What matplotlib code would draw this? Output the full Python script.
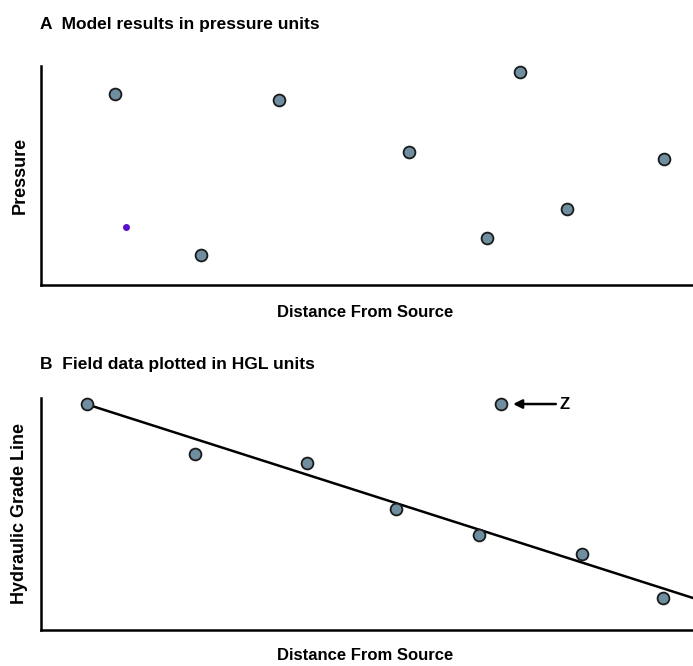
import matplotlib
matplotlib.use("Agg")
import matplotlib.pyplot as plt

plt.rcParams['font.family'] = ['Liberation Sans', 'DejaVu Sans']

# Панель A: результаты модели (условные единицы 0..100)
dist_a = [11.3, 24.5, 36.5, 56.4, 68.4, 73.5, 80.7, 95.6]
pressure_a = [87.2, 13.7, 84.5, 60.7, 21.5, 97.3, 34.7, 57.5]
stray_x, stray_y = 13.0, 26.5

# Панель B: полевые данные в единицах HGL
dist_b = [7.1, 23.6, 40.8, 54.4, 67.2, 83.0, 95.4]
hgl_b = [97.4, 75.9, 72.0, 52.2, 40.9, 32.8, 13.8]
z_x, z_y = 70.6, 97.4
trend_x = [7.1, 100.0]
trend_y = [97.2, 13.8]

marker_face = '#6f8fa0'
mk = dict(ms=8.5, mfc=marker_face, mec='#1a1a1a', mew=1.3, clip_on=False, zorder=3)

fig = plt.figure(figsize=(6.93, 6.66), dpi=100)
ax_a = fig.add_axes([41/693, 1 - 285/666, 652/693, 219/666])
ax_b = fig.add_axes([41/693, 1 - 630/666, 652/693, 232/666])

for ax in (ax_a, ax_b):
    ax.set_xlim(0, 100)
    ax.set_ylim(0, 100)
    ax.set_xticks([])
    ax.set_yticks([])
    for s in ('top', 'right'):
        ax.spines[s].set_visible(False)
    for s in ('left', 'bottom'):
        ax.spines[s].set_linewidth(1.8)
    ax.set_xlabel('Distance From Source', fontsize=12, fontweight='bold', va='center')

ax_a.xaxis.set_label_coords(0.497, -27/219)
ax_b.xaxis.set_label_coords(0.497, -25/232)

ax_a.plot(dist_a, pressure_a, 'o', **mk)
ax_a.plot(stray_x, stray_y, 'o', ms=4, color='#5a10c8', clip_on=False)
ax_a.set_ylabel('Pressure', fontsize=13, fontweight='bold', va='center')
ax_a.yaxis.set_label_coords(-21/652, 0.5)

ax_b.plot(trend_x, trend_y, color='black', lw=1.8, clip_on=False)
ax_b.plot(dist_b, hgl_b, 'o', **mk)
ax_b.plot(z_x, z_y, 'o', **mk)
ax_b.annotate('Z', xy=(z_x + 1.8, z_y), xytext=(z_x + 9.0, z_y),
              fontsize=12, fontweight='bold', va='center', ha='left',
              arrowprops=dict(arrowstyle='-|>', color='black', lw=1.8, mutation_scale=13,
                              shrinkA=1, shrinkB=0))
ax_b.set_ylabel('Hydraulic Grade Line', fontsize=13, fontweight='bold', va='center')
ax_b.yaxis.set_label_coords(-21/652, 0.5)

fig.text(40/693, 1 - 25/666, 'A  Model results in pressure units', fontsize=12.5,
         fontweight='bold', va='center', ha='left')
fig.text(40/693, 1 - 364/666, 'B  Field data plotted in HGL units', fontsize=12.5,
         fontweight='bold', va='center', ha='left')

fig.savefig('out.png', dpi=100)
